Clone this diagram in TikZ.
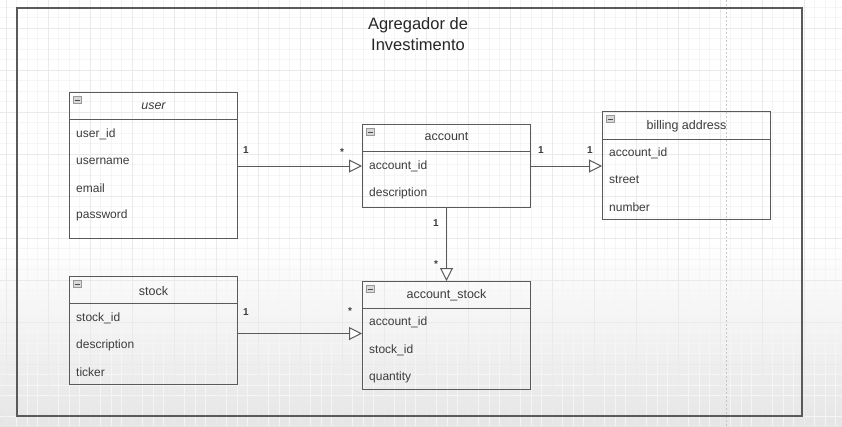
\documentclass[tikz,border=0pt]{standalone}
\usepackage{fontspec}
\setmainfont{Liberation Sans}
\usetikzlibrary{arrows.meta,positioning}

\definecolor{linegray}{HTML}{5A5A5A}
\definecolor{textgray}{HTML}{3C3C3C}
\definecolor{gridminor}{HTML}{F5F5F5}
\definecolor{gridmajor}{HTML}{EAEAEA}

\tikzset{
  entity/.style={draw=linegray, line width=1pt, anchor=north west,
    minimum width=168pt, inner sep=0pt},
  headline/.style={draw=linegray, line width=1pt},
  entitle/.style={font=\fontsize{12.5}{14}\selectfont, text=textgray},
  field/.style={font=\fontsize{12}{14}\selectfont, text=textgray,
    anchor=west, inner sep=0pt},
  mult/.style={font=\fontsize{10}{12}\selectfont\bfseries, text=textgray, inner sep=0pt},
  assoc/.style={draw=linegray, line width=1pt,
    -{Triangle[open, length=13pt, width=13pt, fill=white]}},
  minusicon/.style={draw=gray!80, fill=gray!30, minimum width=8pt, minimum height=7pt,
    inner sep=0pt, path picture={\draw[gray!60!black, line width=0.6pt]
      ([xshift=1.5pt]path picture bounding box.west) --
      ([xshift=-1.5pt]path picture bounding box.east);}}
}

\begin{document}
\begin{tikzpicture}[x=1pt, y=-1pt]
    \useasboundingbox (0,0) rectangle (842,426);

    % Background: white top, grey fade towards the bottom
    \fill[white] (0,0) rectangle (842,240);
    \shade[top color=white, bottom color=gray!20] (0,240) rectangle (842,426);

    % Grid of the editor
    \foreach \gx in {0,...,80}
      \draw[gridminor, line width=0.5pt] (6+10.5*\gx,0) -- (6+10.5*\gx,426);
    \foreach \gy in {0,...,40}
      \draw[gridminor, line width=0.5pt] (0,7+10.5*\gy) -- (842,7+10.5*\gy);
    \foreach \gx in {0,...,20}
      \draw[gridmajor, line width=0.6pt] (6+42*\gx,0) -- (6+42*\gx,426);
    \foreach \gy in {0,...,10}
      \draw[gridmajor, line width=0.6pt] (0,28+42*\gy) -- (842,28+42*\gy);

    % Page break line
    \draw[gray!45, line width=0.8pt, dash pattern=on 2pt off 2pt] (726,0) -- (726,426);

    % Outer frame and title
    \draw[linegray, line width=1.4pt] (17,8) rectangle (802,416);
    \node[font=\fontsize{16.5}{21}\selectfont, text=black!85, align=center]
      (title) at (418,34.5) {Agregador de\\Investimento};

    % user
    \node[entity, minimum height=146pt] (user) at (69,92) {};
    \draw[headline] ([yshift=-27pt]user.north west) -- ([yshift=-27pt]user.north east);
    \node[minusicon] (usericon) at ([xshift=8pt,yshift=-8pt]user.north west) {};
    \node[entitle, font=\fontsize{12.5}{14}\selectfont\itshape] (usertitle)
      at ([yshift=-14pt]user.north) {user};
    \foreach \f [count=\i] in {user\_id, username, email, password}
      \node[field] (user-\i) at ([xshift=7pt, yshift={-15pt-27pt*\i}]user.north west) {\f};

    % account
    \node[entity, minimum height=83pt] (account) at (362,124) {};
    \draw[headline] ([yshift=-27pt]account.north west) -- ([yshift=-27pt]account.north east);
    \node[minusicon] (accounticon) at ([xshift=8pt,yshift=-8pt]account.north west) {};
    \node[entitle] (accounttitle) at ([yshift=-13pt]account.north) {account};
    \foreach \f [count=\i] in {account\_id, description}
      \node[field] (account-\i) at ([xshift=7pt, yshift={-15pt-27pt*\i}]account.north west) {\f};

    % billing address
    \node[entity, minimum height=108pt] (billing) at (602,111) {};
    \draw[headline] ([yshift=-28pt]billing.north west) -- ([yshift=-28pt]billing.north east);
    \node[minusicon] (billingicon) at ([xshift=8pt,yshift=-8pt]billing.north west) {};
    \node[entitle] (billingtitle) at ([yshift=-15pt]billing.north) {billing address};
    \foreach \f [count=\i] in {account\_id, street, number}
      \node[field] (billing-\i) at ([xshift=7pt, yshift={-15pt-27pt*\i}]billing.north west) {\f};

    % stock
    \node[entity, minimum height=108pt] (stock) at (69,276) {};
    \draw[headline] ([yshift=-27pt]stock.north west) -- ([yshift=-27pt]stock.north east);
    \node[minusicon] (stockicon) at ([xshift=8pt,yshift=-8pt]stock.north west) {};
    \node[entitle] (stocktitle) at ([yshift=-15pt]stock.north) {stock};
    \foreach \f [count=\i] in {stock\_id, description, ticker}
      \node[field] (stock-\i) at ([xshift=7pt, yshift={-15pt-27pt*\i}]stock.north west) {\f};

    % account_stock
    \node[entity, minimum height=108pt] (acctstock) at (362,281) {};
    \draw[headline] ([yshift=-27pt]acctstock.north west) -- ([yshift=-27pt]acctstock.north east);
    \node[minusicon] (acctstockicon) at ([xshift=8pt,yshift=-8pt]acctstock.north west) {};
    \node[entitle] (acctstocktitle) at ([yshift=-14pt]acctstock.north) {account\_stock};
    \foreach \f [count=\i] in {account\_id, stock\_id, quantity}
      \node[field] (acctstock-\i) at ([xshift=7pt, yshift={-14pt-27.5pt*\i}]acctstock.north west) {\f};

    % Associations
    \draw[assoc] (user.east |- account-1) -- (account-1 -| account.west);
    \node[mult] (m1) at (246,150) {1};
    \node[mult] (m2) at (342,152) {*};

    \draw[assoc] (account.east |- account-1) -- (account-1 -| billing.west);
    \node[mult] (m3) at (541,150) {1};
    \node[mult] (m4) at (590,150) {1};

    \draw[assoc] (account.south) -- (acctstock.north);
    \node[mult] (m5) at (436,223) {1};
    \node[mult] (m6) at (436,264) {*};

    \draw[assoc] ([yshift=-3pt]stock.east) -- ([yshift=-3pt]stock.east -| acctstock.west);
    \node[mult] (m7) at (246,312) {1};
    \node[mult] (m8) at (350,311) {*};

\end{tikzpicture}
\end{document}
